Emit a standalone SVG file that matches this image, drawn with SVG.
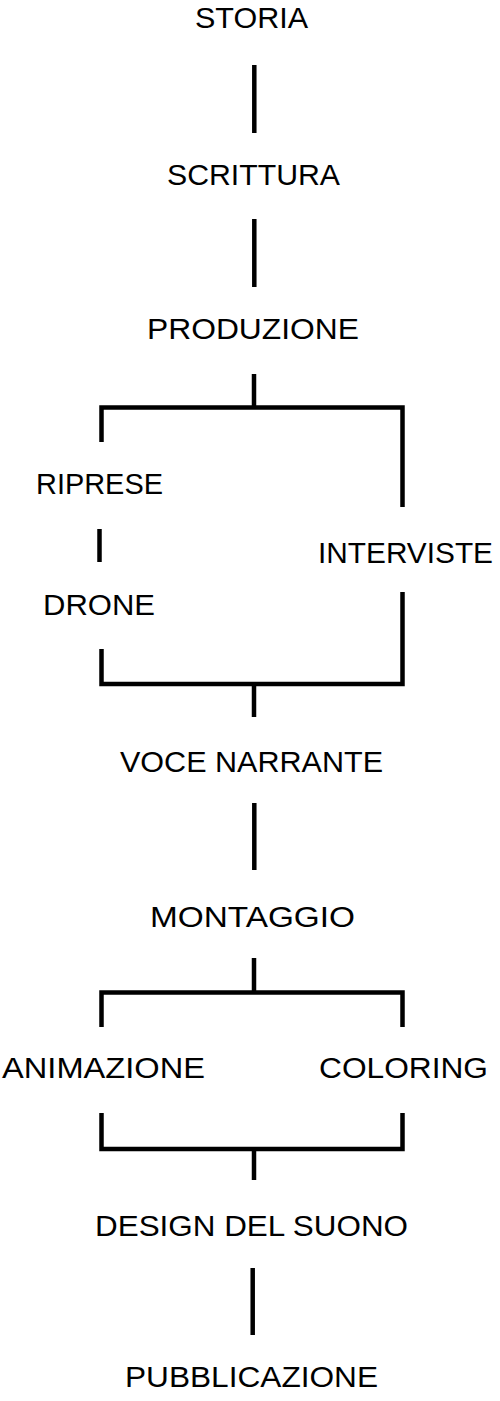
<svg xmlns="http://www.w3.org/2000/svg" width="500" height="1401" viewBox="0 0 500 1401">
<style>
.t{font-family:"Liberation Sans",Arial,sans-serif;font-size:30px;fill:#000;}
.c{fill:none;stroke:#000;stroke-width:4.5;stroke-linecap:butt;stroke-linejoin:miter;}
</style>
<rect width="500" height="1401" fill="#fff"/>
<g id="connectors">
<path class="c" d="M254.3 65V133"/>
<path class="c" d="M254.3 219V287"/>
<path class="c" d="M254 374V407.5"/>
<path class="c" d="M101.5 442V407.5H402.5V507"/>
<path class="c" d="M99.5 529V562"/>
<path class="c" d="M402.5 592V684H101.5V649"/>
<path class="c" d="M254 684V717"/>
<path class="c" d="M254.3 803V870"/>
<path class="c" d="M254 958V992.5"/>
<path class="c" d="M101.5 1027V992.5H402.5V1027"/>
<path class="c" d="M101.5 1113V1149H402.5V1113"/>
<path class="c" d="M254 1149V1180"/>
<path class="c" d="M252.7 1268V1335"/>
</g>
<g id="storia"><text class="t" x="195" y="28" textLength="113" lengthAdjust="spacingAndGlyphs">STORIA</text></g>
<g id="scrittura"><text class="t" x="167" y="185" textLength="173" lengthAdjust="spacingAndGlyphs">SCRITTURA</text></g>
<g id="produzione"><text class="t" x="147" y="339" textLength="212" lengthAdjust="spacingAndGlyphs">PRODUZIONE</text></g>
<g id="riprese"><text class="t" x="36" y="494" textLength="127" lengthAdjust="spacingAndGlyphs">RIPRESE</text></g>
<g id="drone"><text class="t" x="43" y="615" textLength="112" lengthAdjust="spacingAndGlyphs">DRONE</text></g>
<g id="interviste"><text class="t" x="318" y="563" textLength="175" lengthAdjust="spacingAndGlyphs">INTERVISTE</text></g>
<g id="voce-narrante"><text class="t" x="120" y="772" textLength="263" lengthAdjust="spacingAndGlyphs">VOCE NARRANTE</text></g>
<g id="montaggio"><text class="t" x="150" y="926.5" textLength="205" lengthAdjust="spacingAndGlyphs">MONTAGGIO</text></g>
<g id="animazione"><text class="t" x="2" y="1078" textLength="203" lengthAdjust="spacingAndGlyphs">ANIMAZIONE</text></g>
<g id="coloring"><text class="t" x="319" y="1078" textLength="169" lengthAdjust="spacingAndGlyphs">COLORING</text></g>
<g id="design-del-suono"><text class="t" x="95" y="1236" textLength="313" lengthAdjust="spacingAndGlyphs">DESIGN DEL SUONO</text></g>
<g id="pubblicazione"><text class="t" x="125" y="1387" textLength="253" lengthAdjust="spacingAndGlyphs">PUBBLICAZIONE</text></g>
</svg>
